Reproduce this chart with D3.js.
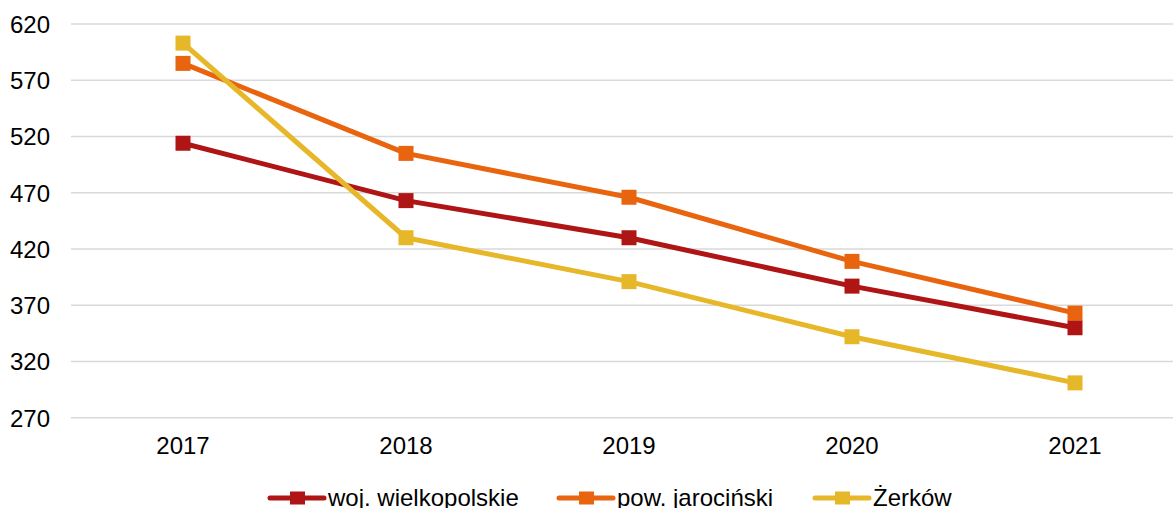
<!DOCTYPE html>
<html>
<head>
<meta charset="utf-8">
<script src="https://cdn.jsdelivr.net/npm/d3@7"></script>
<style>
  html, body { margin: 0; padding: 0; background: #fff; overflow: hidden; }
  svg { display: block; font-family: "Liberation Sans", Arial, sans-serif; }
</style>
</head>
<body>
<svg id="chart" width="1173" height="508"></svg>
<script>
const years = ["2017", "2018", "2019", "2020", "2021"];
const seriesNames = ["woj. wielkopolskie", "pow. jarociński", "Żerków"];
const wojValues = [514, 463, 430, 387, 350];
const powValues = [585, 505, 466, 409, 363];
const zerkowValues = [603, 430, 391, 342, 301];
const yTicks = [270, 320, 370, 420, 470, 520, 570, 620];
const colors = ["#AF1515", "#E9640F", "#E7B72A"];

const series = [wojValues, powValues, zerkowValues].map((vals, i) => ({
  name: seriesNames[i], color: colors[i],
  points: years.map((y, j) => ({ year: y, value: vals[j] }))
}));

const svg = d3.select("#chart");
const x = d3.scaleBand().domain(years).range([71.5, 1186.5]);
const y = d3.scaleLinear().domain([270, 620]).range([417.75, 24]);
const cx = d => x(d) + x.bandwidth() / 2;

// gridlines
svg.append("g").selectAll("line").data(yTicks).join("line")
  .attr("x1", 71).attr("x2", 1186)
  .attr("y1", d => y(d)).attr("y2", d => y(d))
  .attr("stroke", "#D9D9D9").attr("stroke-width", 1.5);

// y axis labels
const yAxis = d3.axisLeft(y).tickValues(yTicks).tickSize(0).tickPadding(0);
const gy = svg.append("g").attr("transform", "translate(50,0)").call(yAxis);
gy.select(".domain").remove();
gy.selectAll("text").attr("font-size", 24).attr("fill", "#000")
  .attr("font-family", "Liberation Sans, Arial, sans-serif").attr("dy", "0.35em");

// x axis labels
const xAxis = d3.axisBottom(x).tickSize(0).tickPadding(0);
const gx = svg.append("g").attr("transform", "translate(0,437.5)").call(xAxis);
gx.select(".domain").remove();
gx.selectAll("text").attr("font-size", 24).attr("fill", "#000")
  .attr("font-family", "Liberation Sans, Arial, sans-serif").attr("dy", "0.7em");

// lines
const line = d3.line().x(d => cx(d.year)).y(d => y(d.value));
const ms = 15;
series.forEach(s => {
  svg.append("path").datum(s.points)
    .attr("d", line).attr("fill", "none")
    .attr("stroke", s.color).attr("stroke-width", 5)
    .attr("stroke-linejoin", "round");
  svg.append("g").selectAll("rect").data(s.points).join("rect")
    .attr("x", d => cx(d.year) - ms / 2).attr("y", d => y(d.value) - ms / 2)
    .attr("width", ms).attr("height", ms).attr("fill", s.color);
});

// legend
const legendX = [270, 559, 815];
const lg = svg.append("g");
series.forEach((s, i) => {
  const g = lg.append("g").attr("transform", `translate(${legendX[i]},498)`);
  g.append("line").attr("x1", 0).attr("x2", 54).attr("y1", 0).attr("y2", 0)
    .attr("stroke", s.color).attr("stroke-width", 5).attr("stroke-linecap", "round");
  g.append("rect").attr("x", 20).attr("y", -6.5).attr("width", 15).attr("height", 13)
    .attr("fill", s.color);
  g.append("text").attr("x", 58).attr("y", 8).attr("font-size", 24)
    .attr("fill", "#000").text(s.name);
});
</script>
</body>
</html>
